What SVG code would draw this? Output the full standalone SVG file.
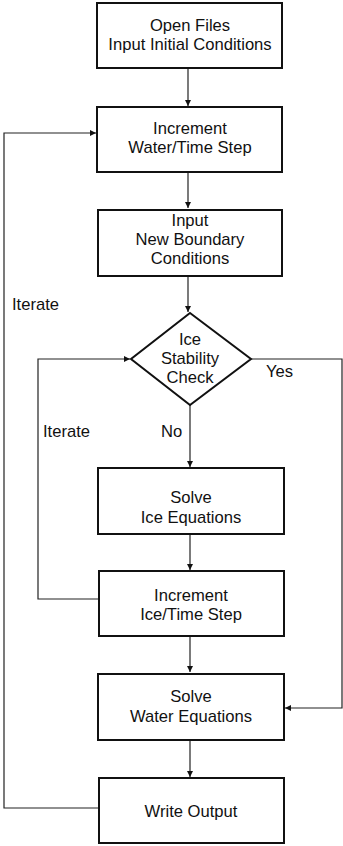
<svg xmlns="http://www.w3.org/2000/svg" width="343" height="846" viewBox="0 0 343 846">
<style>
.box{fill:#fff;stroke:#111;stroke-width:2}
.ln{fill:none;stroke:#222;stroke-width:1.2}
text{font-family:"Liberation Sans",Arial,sans-serif;font-size:16.6px;fill:#111;text-anchor:middle}
.l{text-anchor:start}
</style>
<defs>
<marker id="ah" viewBox="0 0 10 10" refX="10" refY="5" markerWidth="10" markerHeight="6" markerUnits="userSpaceOnUse" orient="auto">
<path d="M0,0 L10,5 L0,10 z" fill="#111"/>
</marker>
</defs>
<rect width="343" height="846" fill="#fff"/>
<g id="connectors">
<path class="ln" d="M188,68 V106" marker-end="url(#ah)"/>
<path class="ln" d="M188,172 V208" marker-end="url(#ah)"/>
<path class="ln" d="M188,276 V312" marker-end="url(#ah)"/>
<path class="ln" d="M190,405 V467" marker-end="url(#ah)"/>
<path class="ln" d="M190,534 V570" marker-end="url(#ah)"/>
<path class="ln" d="M190,636 V672" marker-end="url(#ah)"/>
<path class="ln" d="M190,740 V777" marker-end="url(#ah)"/>
<path class="ln" d="M251,359 H342 V708 H285" marker-end="url(#ah)"/>
<path class="ln" d="M99,599 H38 V359 H130" marker-end="url(#ah)"/>
<path class="ln" d="M99,808 H4 V133 H96" marker-end="url(#ah)"/>
</g>
<g id="n1"><rect class="box" x="97" y="3" width="185" height="65"/><text x="190" y="31">Open Files</text><text x="190" y="50">Input Initial Conditions</text></g>
<g id="n2"><rect class="box" x="97" y="107" width="185" height="65"/><text x="190" y="134">Increment</text><text x="190" y="153">Water/Time Step</text></g>
<g id="n3"><rect class="box" x="98" y="210" width="184" height="66"/><text x="190" y="226">Input</text><text x="190" y="245">New Boundary</text><text x="190" y="264">Conditions</text></g>
<g id="n4"><path class="box" d="M190,313 L251,359 L190,405 L131,359 Z"/><text x="190" y="345">Ice</text><text x="190" y="364">Stability</text><text x="190" y="383">Check</text></g>
<g id="n5"><rect class="box" x="98" y="468" width="186" height="66"/><text x="191" y="503">Solve</text><text x="191" y="523">Ice Equations</text></g>
<g id="n6"><rect class="box" x="99" y="571" width="185" height="65"/><text x="191" y="601">Increment</text><text x="191" y="620">Ice/Time Step</text></g>
<g id="n7"><rect class="box" x="98" y="674" width="186" height="66"/><text x="191" y="702">Solve</text><text x="191" y="722">Water Equations</text></g>
<g id="n8"><rect class="box" x="99" y="778" width="185" height="65"/><text x="191" y="817">Write Output</text></g>
<g id="labels">
<text class="l" x="12" y="310">Iterate</text>
<text class="l" x="43" y="437">Iterate</text>
<text class="l" x="161" y="437">No</text>
<text class="l" x="266" y="377">Yes</text>
</g>
</svg>
